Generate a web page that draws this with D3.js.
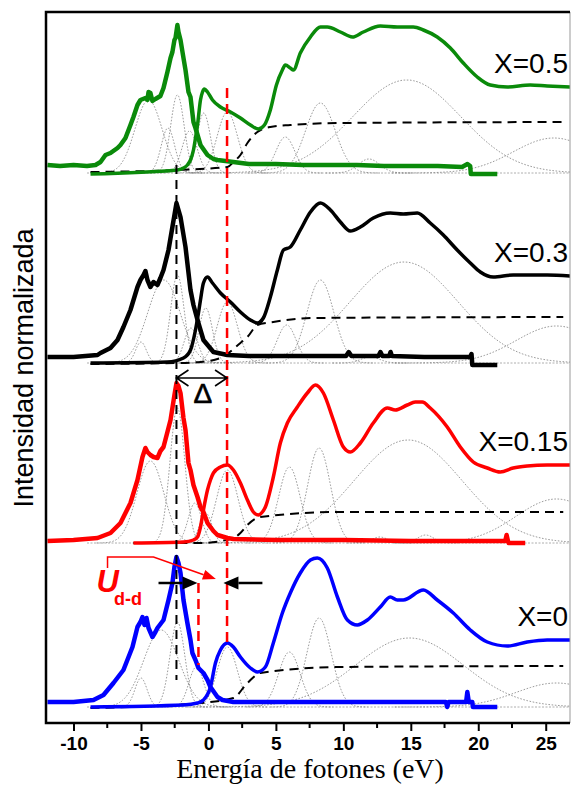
<!DOCTYPE html>
<html><head><meta charset="utf-8">
<script src="https://cdn.jsdelivr.net/npm/d3@7"></script>
<style>
html,body{margin:0;padding:0;background:#fff;}
svg{display:block;}
</style></head>
<body>
<svg id="chart" width="572" height="787"></svg>
<script>
// ---------- DATA ----------
const energyTicks = [-10, -5, 0, 5, 10, 15, 20, 25];
const minorTicks = [-7.5, -2.5, 2.5, 7.5, 12.5, 17.5, 22.5];
const panelLabels = ["X=0.5", "X=0.3", "X=0.15", "X=0"];
const panelColors = ["#0a8a0a", "#000000", "#ff0000", "#0000ff"];
const panelOffsets = [5.50, 3.60, 1.80, 0.16];

// valence band (noisy) spectra [energy eV, intensity]
const vbX05 = [[-11.93,0.08],[-11,0.07],[-10,0.08],[-9,0.07],[-8.37,0.08],[-8.0,0.11],[-7.63,0.18],[-7.26,0.20],[-6.74,0.25],[-6.52,0.28],[-6.15,0.35],[-5.78,0.48],[-5.56,0.56],[-5.26,0.68],[-5.04,0.73],[-4.67,0.75],[-4.52,0.73],[-4.44,0.81],[-4.30,0.80],[-4.15,0.72],[-3.93,0.74],[-3.56,0.77],[-3.33,0.85],[-3.04,1.01],[-2.81,1.15],[-2.67,1.21],[-2.52,1.33],[-2.44,1.35],[-2.30,1.48],[-2.22,1.41],[-2.07,1.33],[-1.85,1.15],[-1.70,1.03],[-1.48,0.81],[-1.33,0.76],[-1.11,0.51],[-0.96,0.45],[-0.59,0.28],[-0.07,0.18],[0.37,0.14],[0.67,0.13],[1.85,0.11],[3,0.09],[5,0.09],[7,0.08],[9,0.08],[11,0.08],[13,0.07],[15,0.07],[17,0.07],[18.8,0.06],[19.2,0.09],[19.4,0.07],[19.45,-0.01],[21.41,-0.01]];
const vbX03 = [[-11.93,0.06],[-10,0.06],[-8.22,0.08],[-8.0,0.10],[-7.26,0.15],[-6.74,0.23],[-6.30,0.36],[-5.78,0.53],[-5.26,0.76],[-5.04,0.83],[-4.81,0.88],[-4.67,0.92],[-4.52,0.83],[-4.30,0.76],[-4.07,0.81],[-3.78,0.78],[-3.56,0.85],[-3.33,0.93],[-2.96,1.13],[-2.67,1.36],[-2.52,1.48],[-2.37,1.60],[-2.22,1.53],[-2.07,1.46],[-1.70,1.16],[-1.33,0.73],[-1.11,0.58],[-0.81,0.43],[-0.37,0.23],[0.37,0.11],[1.41,0.08],[3,0.07],[5,0.07],[7,0.07],[10.2,0.07],[10.4,0.11],[10.6,0.07],[12.6,0.07],[12.75,0.11],[12.9,0.07],[13.4,0.07],[13.5,0.11],[13.6,0.07],[16,0.06],[19.4,0.06],[19.5,0.09],[19.56,-0.02],[21.41,-0.02]];
const vbX015 = [[-11.93,0.02],[-10,0.03],[-8.22,0.05],[-7.26,0.10],[-6.52,0.20],[-5.78,0.40],[-5.26,0.63],[-4.89,0.86],[-4.67,0.95],[-4.52,0.91],[-4.30,0.88],[-4.07,0.86],[-3.78,0.85],[-3.56,0.92],[-3.33,0.96],[-3.04,1.11],[-2.81,1.23],[-2.67,1.35],[-2.52,1.48],[-2.37,1.60],[-2.22,1.57],[-2.07,1.50],[-1.85,1.25],[-1.70,1.13],[-1.48,0.80],[-1.33,0.73],[-1.11,0.58],[-0.81,0.46],[-0.59,0.36],[-0.37,0.31],[-0.07,0.20],[0.37,0.12],[0.67,0.08],[1.41,0.05],[1.85,0.04],[5,0.03],[10,0.03],[15,0.02],[20,0.02],[22.0,0.02],[22.1,0.08],[22.2,0.02],[22.25,0.0],[23.48,0.0]];
const vbX0 = [[-11.93,0.05],[-10,0.05],[-8.52,0.07],[-7.78,0.12],[-7.04,0.24],[-6.30,0.37],[-5.63,0.60],[-5.26,0.80],[-5.04,0.85],[-4.89,0.90],[-4.74,0.82],[-4.59,0.89],[-4.44,0.79],[-4.15,0.70],[-3.93,0.75],[-3.78,0.79],[-3.33,0.87],[-2.96,1.07],[-2.67,1.24],[-2.52,1.40],[-2.37,1.50],[-2.22,1.44],[-2.07,1.34],[-1.85,1.07],[-1.56,0.84],[-1.33,0.67],[-1.19,0.54],[-0.96,0.47],[-0.74,0.39],[-0.37,0.34],[-0.07,0.27],[0.15,0.20],[0.67,0.10],[1.04,0.07],[1.85,0.05],[5,0.05],[10,0.05],[15,0.05],[17.6,0.05],[17.7,0.0],[17.8,0.05],[19.1,0.05],[19.19,0.15],[19.3,0.05],[19.56,0.05],[19.6,0.0],[21.41,0.0]];

// conduction band (smooth) spectra
const cbX05 = [[-8.74,-0.01],[-2.30,0.03],[-1.85,0.05],[-1.56,0.08],[-1.33,0.13],[-1.11,0.23],[-0.96,0.35],[-0.81,0.48],[-0.59,0.73],[-0.44,0.81],[-0.30,0.84],[-0.07,0.81],[0.30,0.73],[0.89,0.66],[1.63,0.61],[2.37,0.55],[3.11,0.48],[3.70,0.44],[4.15,0.48],[4.59,0.63],[5.04,0.88],[5.48,1.03],[5.70,1.08],[6.07,1.05],[6.30,1.03],[6.81,1.20],[7.56,1.36],[8.30,1.46],[8.81,1.46],[9.78,1.41],[10.67,1.36],[11.48,1.41],[12.74,1.47],[14.0,1.46],[15.19,1.46],[15.93,1.43],[16.96,1.36],[17.93,1.25],[18.89,1.10],[19.93,0.96],[20.89,0.88],[22.15,0.86],[23.85,0.88],[25.11,0.87],[26.81,0.86]];
const cbX03 = [[-8.74,0.0],[-3.04,0.01],[-1.85,0.05],[-1.33,0.13],[-0.96,0.33],[-0.74,0.50],[-0.59,0.63],[-0.37,0.80],[-0.07,0.86],[0.30,0.80],[0.89,0.70],[1.63,0.61],[2.37,0.51],[3.11,0.43],[3.63,0.40],[4.07,0.45],[4.59,0.66],[5.11,0.93],[5.56,1.13],[6.07,1.16],[6.81,1.33],[7.56,1.51],[8.30,1.60],[9.04,1.53],[9.78,1.41],[10.52,1.32],[11.26,1.36],[12.22,1.45],[13.48,1.50],[14.44,1.49],[15.48,1.50],[16.44,1.40],[17.41,1.28],[18.44,1.13],[19.41,1.00],[20.15,0.91],[21.11,0.86],[22.59,0.88],[25.11,0.88],[26.81,0.87]];
const cbX015 = [[-5.56,0.0],[-1.85,0.01],[-1.11,0.03],[-0.81,0.06],[-0.59,0.16],[-0.37,0.33],[-0.07,0.53],[0.15,0.63],[0.37,0.70],[0.89,0.76],[1.41,0.78],[1.85,0.73],[2.37,0.60],[2.89,0.43],[3.33,0.31],[3.70,0.28],[4.0,0.31],[4.22,0.36],[4.81,0.66],[5.33,1.00],[5.85,1.20],[6.59,1.36],[7.33,1.50],[7.93,1.58],[8.52,1.50],[9.26,1.23],[10.0,0.96],[10.52,0.91],[11.26,1.00],[12.22,1.20],[13.26,1.35],[13.85,1.33],[14.74,1.38],[15.33,1.41],[15.85,1.41],[16.44,1.35],[17.70,1.16],[18.67,0.96],[19.63,0.81],[20.67,0.75],[21.63,0.71],[22.59,0.75],[23.63,0.77],[25.11,0.78],[26.81,0.78]];
const cbX0 = [[-8.74,0.0],[-1.85,0.02],[-0.81,0.04],[-0.37,0.07],[0.15,0.20],[0.52,0.44],[0.89,0.57],[1.41,0.64],[1.85,0.60],[2.37,0.50],[3.11,0.39],[3.63,0.35],[4.22,0.40],[4.81,0.64],[5.48,0.94],[6.07,1.14],[6.81,1.34],[7.56,1.47],[8.07,1.49],[8.81,1.39],[9.56,1.10],[10.30,0.87],[11.04,0.82],[11.78,0.87],[12.74,1.00],[13.48,1.10],[14.0,1.07],[14.44,1.07],[15.93,1.17],[16.96,1.07],[18.15,0.94],[19.41,0.77],[20.67,0.65],[22.15,0.61],[23.63,0.65],[25.11,0.67],[26.81,0.67]];

// step-like background (dashed)
const bgX05 = [[-8.74,0.01],[-2.30,0.03],[1.41,0.06],[1.85,0.11],[2.37,0.18],[2.89,0.30],[3.63,0.41],[4.59,0.46],[6.07,0.48],[9.78,0.50],[26.30,0.51]];
const bgX03 = [[-8.74,-0.01],[-2.30,0.0],[-0.59,0.01],[0.89,0.05],[2.37,0.20],[2.89,0.26],[3.63,0.38],[4.81,0.41],[7.78,0.45],[26.30,0.46]];
const bgX015 = [[-5.56,0.0],[-0.59,0.0],[1.85,0.05],[2.37,0.10],[2.89,0.18],[3.85,0.26],[9.78,0.31],[26.30,0.31]];
const bgX0 = [[-8.74,-0.01],[-0.59,0.04],[1.85,0.09],[2.89,0.24],[3.85,0.34],[9.78,0.40],[26.30,0.41]];

// fitted gaussian components [centre eV, height, sigma eV]
const fitX05 = [[-4.44,0.73,1.0],[-3.0,0.45,0.5],[-2.3,0.78,0.5],[-1.4,0.42,0.55],[-0.35,0.60,0.5],[1.4,0.61,0.75],[5.7,0.36,0.7],[8.3,0.70,1.1],[11.9,0.14,0.8],[14.7,0.93,4.0],[25.6,0.35,3.0]];
const fitX03 = [[-5.0,0.21,0.4],[-3.3,0.83,1.2],[-2.3,0.88,0.5],[-1.3,0.35,0.5],[-0.2,0.55,0.5],[1.4,0.61,0.75],[5.8,0.38,0.7],[8.3,0.83,1.0],[12.0,0.06,0.7],[14.5,1.01,4.0],[25.8,0.37,3.0]];
const fitX015 = [[-4.3,0.82,1.0],[-2.3,1.35,0.55],[-1.0,0.40,0.5],[-0.2,0.30,0.45],[1.4,0.73,0.8],[6.0,0.76,0.8],[8.2,0.95,0.85],[12.7,0.06,0.6],[16.1,0.08,0.6],[14.8,1.03,4.0],[25.8,0.44,3.0]];
const fitX0 = [[-5.0,0.29,0.45],[-3.5,0.77,1.3],[-2.3,0.85,0.55],[-0.9,0.40,0.55],[1.4,0.60,0.75],[6.0,0.55,0.8],[8.2,0.89,0.9],[14.9,0.69,4.0],[25.8,0.24,3.0]];

const vbSeries = [vbX05, vbX03, vbX015, vbX0];
const cbSeries = [cbX05, cbX03, cbX015, cbX0];
const bgSeries = [bgX05, bgX03, bgX015, bgX0];
const fitSeries = [fitX05, fitX03, fitX015, fitX0];

// ---------- DRAW ----------
const svg = d3.select("#chart");
const L = 46, R = 570, T = 12, B = 723;
const x = d3.scaleLinear().domain([-12.04, 26.8]).range([L, R]);
const y = d3.scaleLinear().domain([0, 7.11]).range([B, T]);

svg.append("defs").append("clipPath").attr("id","clip")
  .append("rect").attr("x",L).attr("y",T).attr("width",R-L).attr("height",B-T);

const plot = svg.append("g").attr("clip-path","url(#clip)");

panelOffsets.forEach((off, i) => {
  const line = d3.line().x(d => x(d[0])).y(d => y(off + d[1]));
  const smooth = d3.line().x(d => x(d[0])).y(d => y(off + d[1])).curve(d3.curveMonotoneX);
  const g = plot.append("g");
  g.append("path").attr("d", line([[-9, 0], [26.8, 0]]))
    .attr("fill","none").attr("stroke","#999").attr("stroke-width",0.8).attr("stroke-dasharray","2,1.5");
  fitSeries[i].forEach(([c, h, s]) => {
    const lo = Math.max(-9, c - 4 * s), hi = Math.min(26.8, c + 4 * s);
    const pts = d3.range(lo, hi + 0.001, (hi - lo) / 80).map(e => [e, h * Math.exp(-0.5 * ((e - c) / s) ** 2)]);
    g.append("path").attr("d", smooth(pts))
      .attr("fill","none").attr("stroke","#808080").attr("stroke-width",0.8).attr("stroke-dasharray","1.6,1.6");
  });
  g.append("path").attr("d", smooth(bgSeries[i]))
    .attr("fill","none").attr("stroke","#000").attr("stroke-width",2).attr("stroke-dasharray","9,6");
  g.append("path").attr("d", line(vbSeries[i]))
    .attr("fill","none").attr("stroke",panelColors[i]).attr("stroke-width",4.5).attr("stroke-linejoin","round");
  g.append("path").attr("d", smooth(cbSeries[i]))
    .attr("fill","none").attr("stroke",panelColors[i]).attr("stroke-width",3.5).attr("stroke-linejoin","round");
  const cb = cbSeries[i];
  svg.append("text").attr("x", R - 2).attr("y", y(off + cb[cb.length - 1][1] + 0.14))
    .attr("text-anchor","end").attr("font-family","Liberation Sans, Arial, sans-serif")
    .attr("font-size",28).attr("fill","#000").text(panelLabels[i]);
});

const ann = svg.append("g");
ann.append("line").attr("x1",x(-2.37)).attr("x2",x(-2.37)).attr("y1",y(5.58)).attr("y2",y(0.43))
  .attr("stroke","#000").attr("stroke-width",2).attr("stroke-dasharray","9,6");
ann.append("line").attr("x1",x(1.38)).attr("x2",x(1.38)).attr("y1",y(6.35)).attr("y2",y(0.78))
  .attr("stroke","#ff0000").attr("stroke-width",2.5).attr("stroke-dasharray","10,6");
ann.append("line").attr("x1",x(-0.74)).attr("x2",x(-0.74)).attr("y1",y(1.40)).attr("y2",y(0.58))
  .attr("stroke","#ff0000").attr("stroke-width",2.5).attr("stroke-dasharray","10,6");

const dy = y(3.45), dx1 = x(-2.37), dx2 = x(1.38);
ann.append("path").attr("d", `M${dx1},${dy}H${dx2}M${dx1+12},${dy-8}L${dx1},${dy}L${dx1+12},${dy+8}M${dx2-12},${dy-8}L${dx2},${dy}L${dx2-12},${dy+8}`)
  .attr("fill","none").attr("stroke","#000").attr("stroke-width",1.6);
ann.append("text").attr("x",(dx1+dx2)/2+1).attr("y",y(3.20)).attr("text-anchor","middle")
  .attr("font-family","Liberation Sans, Arial, sans-serif").attr("font-size",28).attr("stroke","#000").attr("stroke-width",0.6).text("Δ");

const ay = y(1.40);
function fatArrow(xFrom, xTo) {
  const dir = Math.sign(xTo - xFrom), base = xTo - dir * 15;
  ann.append("line").attr("x1",xFrom).attr("x2",base).attr("y1",ay).attr("y2",ay)
    .attr("stroke","#000").attr("stroke-width",2.5);
  ann.append("path").attr("d",`M${xTo},${ay}L${base},${ay-6.5}L${base},${ay+6.5}Z`).attr("fill","#000");
}
fatArrow(x(-3.70), x(-0.81));
fatArrow(x(4.0), x(1.11));

const p0 = [x(-7.48), y(1.55)], p1 = [x(-7.48), y(1.66)], p2 = [x(-4.07), y(1.66)], p3 = [x(0.55), y(1.44)];
const ang = Math.atan2(p3[1]-p2[1], p3[0]-p2[0]);
const hb = [p3[0]-13*Math.cos(ang), p3[1]-13*Math.sin(ang)];
ann.append("polyline").attr("points",[p0,p1,p2,hb].map(p=>p.join(",")).join(" "))
  .attr("fill","none").attr("stroke","#ff0000").attr("stroke-width",1.5);
ann.append("path").attr("d",`M${p3[0]},${p3[1]}L${hb[0]-5*Math.sin(ang)},${hb[1]+5*Math.cos(ang)}L${hb[0]+5*Math.sin(ang)},${hb[1]-5*Math.cos(ang)}Z`)
  .attr("fill","#ff0000");
ann.append("text").attr("x",x(-8.3)).attr("y",y(1.31)).attr("fill","#ff0000")
  .attr("font-family","Liberation Sans, Arial, sans-serif").attr("font-weight","bold")
  .attr("font-size",31).attr("font-style","italic").text("U");
ann.append("text").attr("x",x(-7.0)).attr("y",y(1.18)).attr("fill","#ff0000")
  .attr("font-family","Liberation Sans, Arial, sans-serif").attr("font-weight","bold").attr("font-size",18).text("d-d");

svg.append("line").attr("x1",R).attr("x2",R).attr("y1",T).attr("y2",B).attr("stroke","#999").attr("stroke-width",1);
svg.append("path").attr("d",`M${R},${T}H${L}V${B}H${R}`).attr("fill","none").attr("stroke","#000").attr("stroke-width",2.5);

const axis = d3.axisBottom(x).tickValues(energyTicks).tickSize(8).tickSizeOuter(0).tickPadding(6).tickFormat(d => String(d));
const ag = svg.append("g").attr("transform",`translate(0,${B})`).call(axis);
ag.select(".domain").remove();
ag.selectAll(".tick line").attr("stroke","#000").attr("stroke-width",2);
ag.selectAll(".tick text").attr("font-family","Liberation Sans, Arial, sans-serif").attr("font-weight","bold")
  .attr("font-size",19).attr("fill","#000");
svg.append("g").selectAll("line").data(minorTicks).join("line")
  .attr("x1",d=>x(d)).attr("x2",d=>x(d)).attr("y1",B).attr("y2",B+5).attr("stroke","#000").attr("stroke-width",2);

svg.append("text").attr("x",(L+R)/2+2).attr("y",778).attr("text-anchor","middle")
  .attr("font-family","Liberation Serif, Times New Roman, serif").attr("font-size",28).text("Energía de fotones (eV)");
svg.append("text").attr("transform","translate(33,368) rotate(-90)").attr("text-anchor","middle")
  .attr("font-family","Liberation Sans, Arial, sans-serif").attr("font-size",27).text("Intensidad normalizada");
</script>
</body></html>
